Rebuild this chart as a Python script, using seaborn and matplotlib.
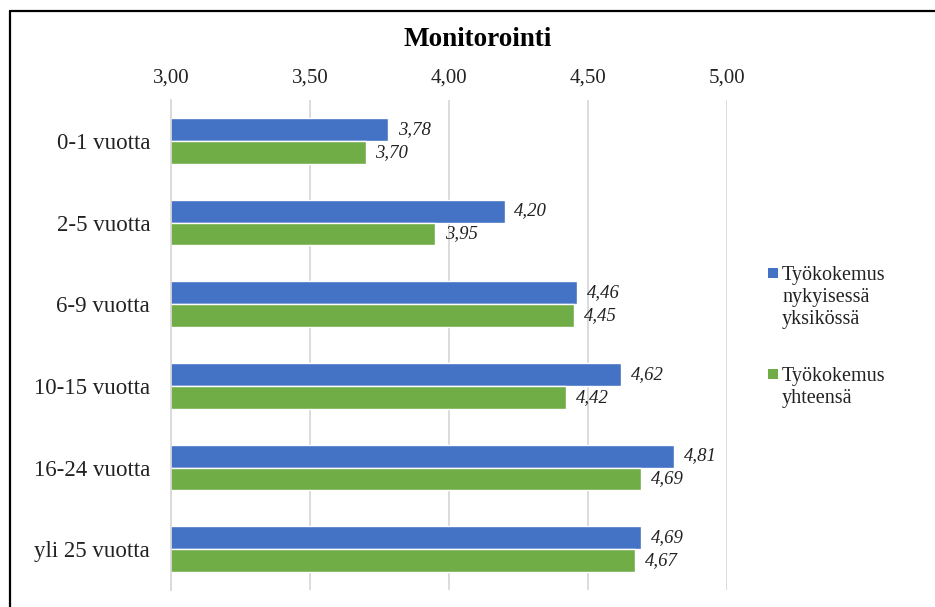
import matplotlib
matplotlib.use("Agg")
import matplotlib.pyplot as plt
from matplotlib.lines import Line2D
from matplotlib.patches import Rectangle
import seaborn as sns
import pandas as pd

categories = ["0-1 vuotta", "2-5 vuotta", "6-9 vuotta", "10-15 vuotta", "16-24 vuotta", "yli 25 vuotta"]
series_names = ["Työkokemus\nnykyisessä\nyksikössä", "Työkokemus\nyhteensä"]
current_unit = [3.78, 4.20, 4.46, 4.62, 4.81, 4.69]
total = [3.70, 3.95, 4.45, 4.42, 4.69, 4.67]
x_ticks = [3.00, 3.50, 4.00, 4.50, 5.00]
colors = ["#4472C4", "#70AD47"]

df = pd.DataFrame({
    "Ryhmä": categories * 2,
    "Sarja": [series_names[0]] * len(categories) + [series_names[1]] * len(categories),
    "Arvo": current_unit + total,
})

sns.set_theme(style="white")
plt.rcParams["font.family"] = ["Liberation Serif", "DejaVu Serif"]

fig = plt.figure(figsize=(9.35, 6.07), dpi=100)
W, H = 935, 607
ax = fig.add_axes([171 / W, 1 - 590 / H, 556 / W, 490 / H])

sns.barplot(data=df, y="Ryhmä", x="Arvo", hue="Sarja", order=categories,
            hue_order=series_names, palette=colors, width=0.56, gap=0,
            orient="h", ax=ax, saturation=1, errorbar=None, legend=False)

ax.set_xlim(3.0, 5.0)
ax.set_ylim(len(categories) - 0.5, -0.5)
ax.set_xticks(x_ticks)
ax.set_xticklabels([f"{t:.2f}".replace(".", ",") for t in x_ticks])
ax.xaxis.tick_top()
ax.tick_params(axis="x", length=0, pad=9, labelsize=15, colors="#222222")
ax.tick_params(axis="y", length=0, pad=15, labelsize=16.5, colors="#222222")
ax.set_xlabel("")
ax.set_ylabel("")
ax.grid(axis="x", color="#d9d9d9", linewidth=1.3)
ax.set_axisbelow(True)
for side in ["top", "right", "bottom"]:
    ax.spines[side].set_visible(False)
ax.spines["left"].set_color("#d9d9d9")
ax.spines["left"].set_linewidth(1.3)

# value labels at the end of each bar
for container in ax.containers:
    ax.bar_label(container, labels=[f"{v:.2f}".replace(".", ",") for v in container.datavalues],
                 padding=7, fontsize=13.5, style="italic", color="#222222")

# legend: square marker beside the first line of each entry
legend_rows = [273, 374]
for name, color, y in zip(series_names, colors, legend_rows):
    fig.add_artist(Rectangle((768 / W, 1 - (y + 4.5) / H), 9.5 / W, 9.5 / H,
                             transform=fig.transFigure, facecolor=color, edgecolor="none"))
    fig.text(782 / W, 1 - (y - 7) / H, name, ha="left", va="top", fontsize=14.5,
             linespacing=1.22, color="#222222")

fig.text(478 / W, 1 - 39 / H, "Monitorointi", ha="center", va="center",
         fontsize=19.5, fontweight="bold", color="black")

# chart frame
fig.add_artist(Line2D([9.5 / W, 9.5 / W], [0, 1 - 11 / H], transform=fig.transFigure,
                      color="black", linewidth=1.6))
fig.add_artist(Line2D([9.5 / W, 1], [1 - 11 / H, 1 - 11 / H], transform=fig.transFigure,
                      color="black", linewidth=1.6))

fig.savefig("out.png", dpi=100)
